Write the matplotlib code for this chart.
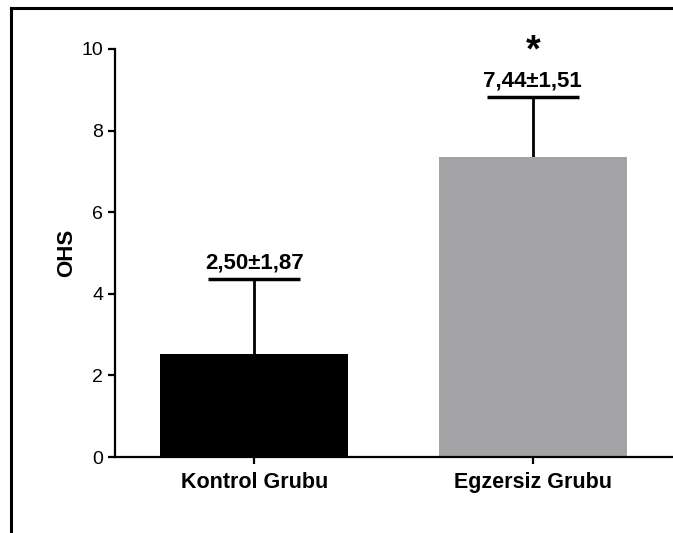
# OHS bar chart: Kontrol vs Egzersiz group

import matplotlib
matplotlib.use("Agg")
import matplotlib.pyplot as plt
from matplotlib.lines import Line2D

plt.rcParams['font.family'] = ['Liberation Sans', 'DejaVu Sans']

# data
groups = ['Kontrol Grubu', 'Egzersiz Grubu']
means = [2.52, 7.35]
errors = [1.85, 1.47]
labels = ['2,50±1,87', '7,44±1,51']
colors = ['#000000', '#a3a3a6']
yticks = [0, 2, 4, 6, 8, 10]

fig = plt.figure(figsize=(6.73, 5.33), dpi=100)
ax = fig.add_axes([115/673, 1 - 457/533, 557/673, 408/533])

x = list(range(len(groups)))
ax.bar(x, means, width=0.676, color=colors, zorder=2)
eb = ax.errorbar(x, means, yerr=[[0, 0], errors], fmt='none', ecolor='black',
                 elinewidth=2, capsize=33, capthick=2.5, zorder=1)
# only the upper caps are drawn
eb[1][0].set_visible(False)

# mean ± sd labels above the caps
for xi, m, e, lab in zip(x, means, errors, labels):
    ax.annotate(lab, (xi, m + e), xytext=(0, 4), textcoords='offset points',
                ha='center', va='bottom', fontsize=16, fontweight='bold')

# significance asterisk
ax.annotate('*', (1, means[1] + errors[1]), xytext=(0, 20), textcoords='offset points',
            ha='center', va='bottom', fontsize=27, fontweight='bold')

ax.set_xlim(-0.5, 1.5)
ax.set_ylim(0, 10)
ax.set_yticks(yticks)
ax.set_yticklabels([str(t) for t in yticks], fontsize=14)
ax.set_xticks(x)
ax.set_xticklabels(groups, fontsize=15.5, fontweight='bold')
ax.set_ylabel('OHS', fontsize=16, fontweight='bold', labelpad=3)

ax.spines['top'].set_visible(False)
ax.spines['right'].set_visible(False)
ax.spines['left'].set_linewidth(1.6)
ax.spines['bottom'].set_linewidth(1.6)
ax.tick_params(axis='both', width=1.6, length=5, direction='out')
ax.tick_params(axis='x', pad=6)

# outer frame (left and top sides visible)
fig.add_artist(Line2D([11/673, 11/673], [0, 1 - 8/533], transform=fig.transFigure,
                      color='black', lw=2.2))
fig.add_artist(Line2D([11/673, 1], [1 - 8/533, 1 - 8/533], transform=fig.transFigure,
                      color='black', lw=2.2))

fig.savefig('out.png', dpi=100)
